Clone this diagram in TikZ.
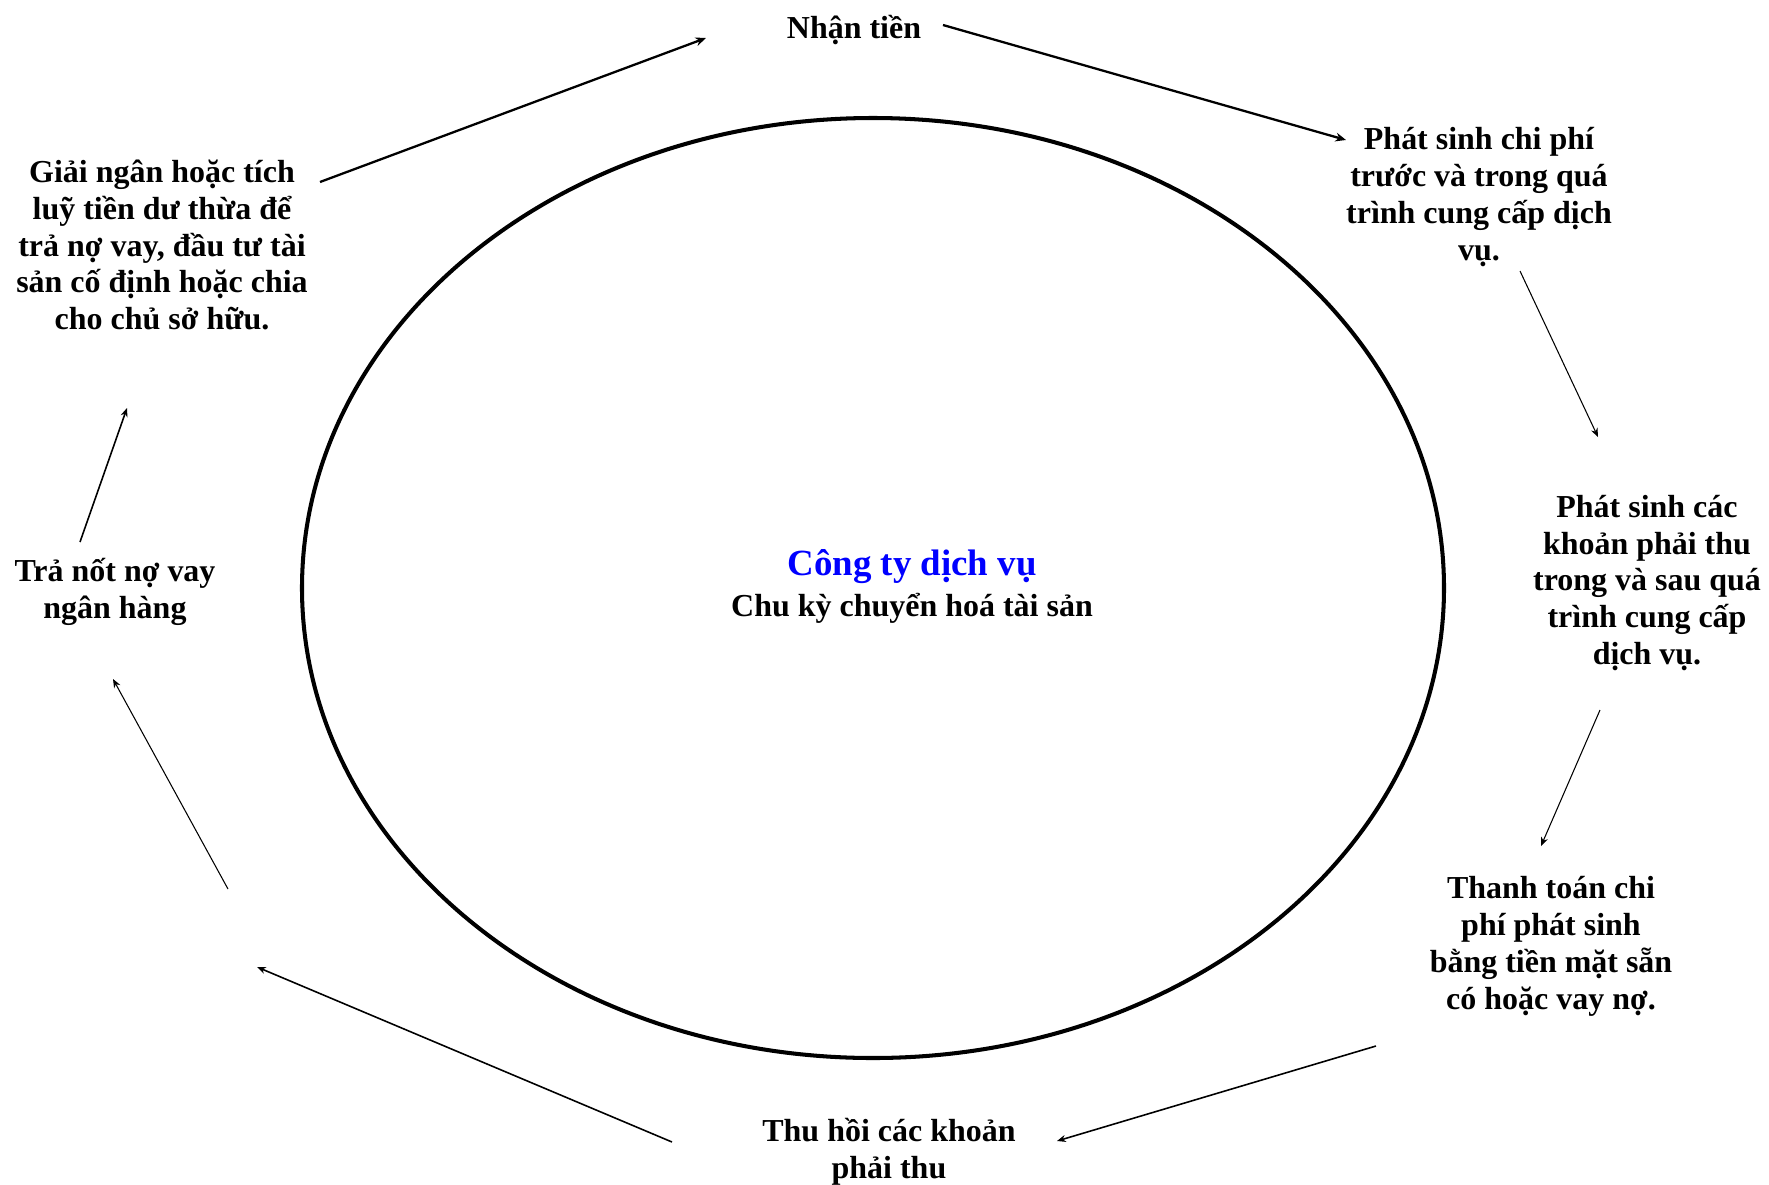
\documentclass[tikz,border=0pt]{standalone}
\usepackage{fontspec}
\setmainfont{Liberation Serif}
\definecolor{FirmBlue}{RGB}{0,0,255}
\usetikzlibrary{arrows.meta, calc}

\begin{document}
\begin{tikzpicture}[x=0.02cm, y=-0.02cm,
    stage/.style={align=center, inner sep=0pt,
                  font=\fontsize{18.2}{21}\selectfont\bfseries},
    flowthick/.style={-{Stealth[length=6pt, width=5pt]}, line width=1.3pt},
    flowmid/.style={-{Stealth[length=5pt, width=4pt]}, line width=0.9pt},
    flowthin/.style={-{Stealth[length=5pt, width=4pt]}, line width=0.6pt}]
      \useasboundingbox (0,0) rectangle (1769,1184);

      % the cycle itself
      \draw[line width=2.3pt] (873,588) ellipse [x radius=571, y radius=470];
      \node[font=\fontsize{21}{24}\selectfont\bfseries, text=FirmBlue, inner sep=0pt]
            (firm) at (912,567) {Công ty dịch vụ};
      \node[stage] (cycle) at (912,608) {Chu kỳ chuyển hoá tài sản};

      % stages round the ellipse
      \node[stage] (nhan)      at (854,30)   {Nhận tiền};
      \node[stage] (chiphi)    at (1479,197) {Phát sinh chi phí\\trước và trong quá\\trình cung cấp dịch\\vụ.};
      \node[stage] (phaithu)   at (1647,583) {Phát sinh các\\khoản phải thu\\trong và sau quá\\trình cung cấp\\dịch vụ.};
      \node[stage] (thanhtoan) at (1551,946) {Thanh toán chi\\phí phát sinh\\bằng tiền mặt sẵn\\có hoặc vay nợ.};
      \node[stage] (thuhoi)    at (889,1152) {Thu hồi các khoản\\phải thu};
      \node[stage] (tranot)    at (115,592)  {Trả nốt nợ vay\\ngân hàng};
      \node[stage] (giaingan)  at (162,245)  {Giải ngân hoặc tích\\luỹ tiền dư thừa để\\trả nợ vay, đầu tư tài\\sản cố định hoặc chia\\cho chủ sở hữu.};

      % loose ends of the two left arrows
      \coordinate (gapend)   at (257,967);
      \coordinate (gapstart) at (228,889);

      % arrows, clockwise
      \draw[flowthick] ($(giaingan)+(158,-63)$) -- ($(nhan)+(-148,8)$);
      \draw[flowthick] ($(nhan)+(89,-5)$) -- ($(chiphi)+(-133,-57)$);
      \draw[flowthin]  ($(chiphi)+(41,74)$) -- ($(phaithu)+(-49,-146)$);
      \draw[flowthin]  ($(phaithu)+(-47,127)$) -- ($(thanhtoan)+(-10,-100)$);
      \draw[flowmid]   ($(thanhtoan)+(-175,100)$) -- ($(thuhoi)+(168,-11)$);
      \draw[flowmid]   ($(thuhoi)+(-217,-10)$) -- (gapend);
      \draw[flowthin]  (gapstart) -- ($(tranot)+(-2,87)$);
      \draw[flowmid]   ($(tranot)+(-35,-50)$) -- ($(giaingan)+(-35,163)$);
\end{tikzpicture}
\end{document}
